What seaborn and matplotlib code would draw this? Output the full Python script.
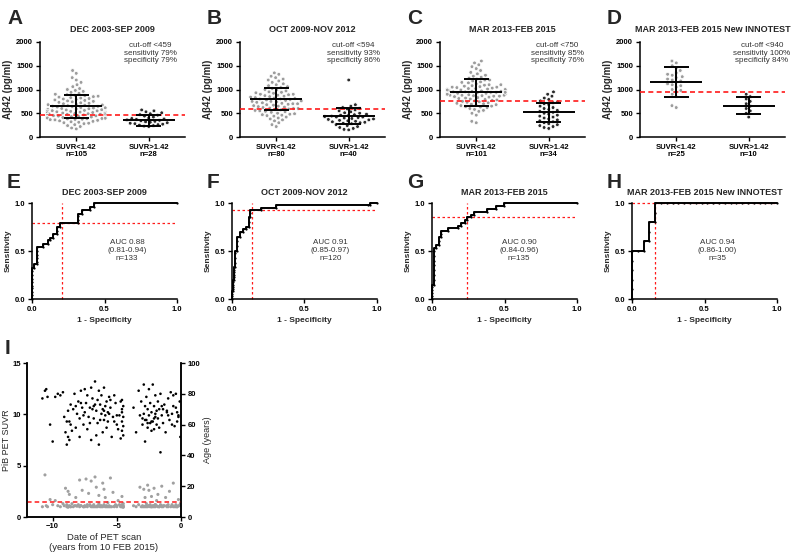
import numpy as np
import pandas as pd
import matplotlib
matplotlib.use('Agg')
import matplotlib.pyplot as plt
import seaborn as sns

# ---- data ----
cats = ['SUVR<1.42', 'SUVR>1.42']
periods = ['DEC 2003-SEP 2009', 'OCT 2009-NOV 2012', 'MAR 2013-FEB 2015',
           'MAR 2013-FEB 2015 New INNOTEST']
n_neg = [105, 80, 101, 25]
n_pos = [28, 40, 34, 10]
cutoffs = [459, 594, 750, 940]
sens = [79, 93, 85, 100]
spec = [79, 86, 76, 84]
means_neg = [645, 795, 940, 1155]
sd_neg = [240, 230, 280, 315]
means_pos = [350, 440, 520, 660]
sd_pos = [115, 175, 205, 175]

a_neg = [1400, 1340, 1250, 1200, 1150, 1100, 1060, 1020, 1000, 980, 960, 940, 920, 900, 890,
         880, 870, 860, 850, 840, 830, 820, 810, 800, 790, 780, 770, 760, 750, 740,
         730, 720, 710, 700, 690, 680, 675, 670, 660, 650, 645, 640, 630, 620, 615,
         610, 600, 595, 590, 580, 575, 570, 560, 555, 550, 545, 540, 530, 525, 520,
         515, 510, 505, 500, 495, 490, 485, 480, 475, 470, 465, 460, 455, 450, 445,
         440, 435, 430, 425, 420, 415, 410, 405, 400, 395, 390, 385, 380, 375, 370,
         365, 360, 350, 340, 330, 320, 310, 300, 290, 280, 260, 240, 220, 190, 170]
a_pos = [570, 550, 530, 510, 490, 470, 460, 440, 420, 400, 390, 380, 370, 360, 350,
         340, 330, 320, 310, 300, 290, 280, 270, 260, 250, 240, 230, 220]
b_neg = [1350, 1320, 1280, 1250, 1220, 1200, 1180, 1150, 1120, 1100, 1080, 1060, 1040, 1020, 1000,
         990, 970, 950, 940, 930, 920, 900, 890, 880, 870, 860, 850, 840, 830, 820,
         810, 800, 790, 780, 770, 760, 750, 740, 730, 720, 710, 700, 690, 680, 670,
         660, 650, 640, 630, 620, 610, 600, 590, 580, 570, 560, 550, 540, 530, 520,
         500, 490, 480, 470, 460, 450, 440, 420, 400, 380, 360, 340, 300, 260, 220,
         900, 800, 700, 600, 750]
b_pos = [1200, 680, 650, 620, 600, 590, 570, 550, 530, 510, 500, 480, 470, 460, 450,
         440, 430, 420, 410, 400, 390, 380, 370, 360, 350, 340, 330, 320, 310, 300,
         290, 280, 260, 240, 220, 200, 180, 160, 150, 420]
c_neg = [1600, 1560, 1520, 1480, 1440, 1400, 1360, 1330, 1300, 1280, 1260, 1240, 1220, 1200, 1180,
         1160, 1140, 1120, 1100, 1090, 1080, 1070, 1060, 1050, 1040, 1030, 1020, 1010, 1000, 990,
         980, 970, 960, 950, 940, 930, 920, 910, 900, 890, 880, 870, 860, 850, 840,
         830, 820, 810, 800, 790, 780, 770, 760, 750, 740, 730, 720, 710, 700, 690,
         680, 670, 660, 650, 640, 630, 620, 600, 580, 560, 540, 500, 460, 330, 300,
         1000, 980, 960, 940, 920, 900, 880, 860, 1050, 1100, 1150, 1200, 950, 920, 880,
         1000, 1020, 940, 900, 870, 990]
c_pos = [950, 900, 860, 820, 790, 760, 740, 720, 700, 680, 650, 620, 600, 580, 560, 540, 520,
         500, 480, 460, 440, 420, 400, 380, 360, 340, 320, 300, 280, 260, 240, 220, 200, 180]
d_neg = [1600, 1560, 1500, 1450, 1400, 1350, 1320, 1300, 1270, 1250, 1220, 1200, 1180,
         1150, 1120, 1100, 1080, 1050, 1000, 980, 950, 900, 850, 660, 620]
d_pos = [900, 850, 800, 750, 700, 650, 600, 550, 500, 420]

# ROC curves (1 - specificity, sensitivity)
e_fpr = [0, 0, 0, 0, 0, 0, 0, 0, 0, 0, 0.014, 0.014, 0.034, 0.034, 0.034, 0.034, 0.034, 0.034,
         0.076, 0.076, 0.11, 0.11, 0.126, 0.126, 0.145, 0.145, 0.172, 0.172, 0.172, 0.19, 0.19,
         0.317, 0.317, 0.317, 0.317, 0.347, 0.347, 0.398, 0.398, 0.428, 0.428, 1.0]
e_tpr = [0, 0.04, 0.07, 0.11, 0.14, 0.18, 0.21, 0.25, 0.29, 0.32, 0.32, 0.36, 0.36, 0.39, 0.43,
         0.46, 0.50, 0.54, 0.54, 0.57, 0.57, 0.61, 0.61, 0.64, 0.64, 0.68, 0.68, 0.71, 0.75, 0.75,
         0.79, 0.79, 0.82, 0.86, 0.89, 0.89, 0.93, 0.93, 0.96, 0.96, 1.0, 1.0]
f_fpr = [0, 0, 0, 0, 0.007, 0.007, 0.007, 0.007, 0.007, 0.007, 0.016, 0.016, 0.016, 0.016, 0.016,
         0.016, 0.023, 0.023, 0.023, 0.023, 0.023, 0.034, 0.034, 0.034, 0.034, 0.057, 0.057,
         0.076, 0.076, 0.099, 0.099, 0.115, 0.115, 0.115, 0.126, 0.126, 0.126, 0.202, 0.202,
         0.306, 0.306, 0.938, 0.954, 0.954, 1.0]
f_tpr = [0, 0.03, 0.05, 0.08, 0.08, 0.10, 0.13, 0.15, 0.18, 0.20, 0.20, 0.23, 0.25, 0.28, 0.30,
         0.33, 0.33, 0.38, 0.43, 0.48, 0.50, 0.50, 0.55, 0.60, 0.65, 0.65, 0.70, 0.70, 0.73,
         0.73, 0.75, 0.75, 0.80, 0.85, 0.85, 0.90, 0.93, 0.93, 0.95, 0.95, 0.975, 0.975, 0.975,
         1.0, 1.0]
g_fpr = [0, 0, 0, 0, 0, 0, 0.016, 0.016, 0.016, 0.016, 0.016, 0.016, 0.016, 0.016, 0.016,
         0.03, 0.03, 0.046, 0.046, 0.046, 0.062, 0.062, 0.062, 0.11, 0.11, 0.18, 0.18, 0.198,
         0.198, 0.225, 0.225, 0.244, 0.244, 0.271, 0.271, 0.287, 0.287, 0.379, 0.379, 0.444,
         0.444, 0.497, 0.497, 1.0]
g_tpr = [0, 0.03, 0.06, 0.09, 0.12, 0.15, 0.15, 0.20, 0.25, 0.30, 0.35, 0.40, 0.45, 0.50, 0.53,
         0.53, 0.56, 0.56, 0.60, 0.65, 0.65, 0.68, 0.71, 0.71, 0.74, 0.74, 0.76, 0.76, 0.79,
         0.79, 0.82, 0.82, 0.85, 0.85, 0.88, 0.88, 0.91, 0.91, 0.94, 0.94, 0.97, 0.97, 1.0, 1.0]
h_fpr = [0, 0, 0, 0, 0, 0, 0.04, 0.08, 0.08, 0.12, 0.12, 0.12, 0.16, 0.16, 0.16, 0.20, 0.24,
         0.28, 0.32, 0.36, 0.40, 0.44, 0.48, 0.52, 0.56, 0.60, 0.64, 0.68, 0.72, 0.76, 0.80,
         0.84, 0.88, 0.92, 0.96, 1.0]
h_tpr = [0, 0.1, 0.2, 0.3, 0.4, 0.5, 0.5, 0.5, 0.6, 0.6, 0.7, 0.8, 0.8, 0.9, 1.0, 1.0, 1.0,
         1.0, 1.0, 1.0, 1.0, 1.0, 1.0, 1.0, 1.0, 1.0, 1.0, 1.0, 1.0, 1.0, 1.0, 1.0, 1.0, 1.0,
         1.0, 1.0]
auc = ['0.88', '0.91', '0.90', '0.94']
auc_ci = ['0.81-0.94', '0.85-0.97', '0.84-0.96', '0.86-1.00']
n_total = [133, 120, 135, 35]

# panel I: scan date (years from 10 FEB 2015), age, PiB SUVR
scan_date = [-10.8, -10.6, -10.5, -10.4, -10.2, -10.0, -9.8, -9.6, -9.4, -9.2,
             -9.1, -9.0, -8.9, -8.9, -8.8, -8.8, -8.7, -8.7, -8.6, -8.5,
             -8.4, -8.3, -8.2, -8.1, -8.0, -7.9, -7.9, -7.8, -7.7, -7.6,
             -7.5, -7.5, -7.4, -7.3, -7.3, -7.2, -7.1, -7.0, -7.0, -6.9,
             -6.8, -6.8, -6.7, -6.6, -6.6, -6.5, -6.5, -6.4, -6.4, -6.3,
             -6.2, -6.2, -6.1, -6.1, -6.0, -6.0, -5.9, -5.9, -5.8, -5.8,
             -5.7, -5.7, -5.6, -5.5, -5.4, -5.3, -5.2, -5.1, -5.0, -4.9,
             -4.7, -4.7, -4.6, -4.6, -4.6, -4.6, -4.5, -4.5, -4.5, -4.5,
             -3.7, -3.5, -3.3, -3.2, -3.1, -3.0, -2.9, -2.9, -2.8, -2.8,
             -2.7, -2.7, -2.6, -2.6, -2.5, -2.5, -2.4, -2.4, -2.3, -2.3,
             -2.2, -2.2, -2.1, -2.1, -2.0, -2.0, -1.9, -1.9, -1.8, -1.8,
             -1.7, -1.6, -1.6, -1.5, -1.4, -1.3, -1.2, -1.1, -1.0, -0.9,
             -0.8, -0.7, -0.6, -0.5, -0.4, -0.3, -0.2, -0.1, -0.05, -0.6,
             -8.6, -8.2, -7.6, -7.1, -6.9, -6.3, -5.6, -5.2, -4.8, -4.6,
             -3.0, -2.6, -2.3, -2.0, -1.7, -1.4, -1.0, -0.7, -0.4, -0.2,
             -7.8, -6.7, -6.0, -5.5, -5.0, -2.8, -2.1, -1.5, -1.1, -0.3]
age = [77, 82, 83, 78, 60, 49, 78, 80, 79, 81,
       65, 55, 62, 47, 69, 52, 62, 50, 73, 56,
       70, 80, 58, 67, 75, 52, 64, 82, 71, 60,
       68, 83, 74, 57, 79, 65, 71, 50, 84, 77,
       64, 72, 88, 53, 69, 76, 61, 82, 47, 73,
       67, 79, 55, 70, 63, 84, 72, 66, 58, 75,
       68, 62, 78, 71, 52, 65, 79, 74, 60, 57,
       75, 51, 68, 62, 56, 70, 72, 53, 65, 59,
       71, 55, 82, 66, 75, 60, 86, 67, 49, 72,
       78, 63, 58, 70, 83, 66, 61, 74, 56, 68,
       86, 62, 72, 57, 65, 79, 60, 69, 75, 64,
       70, 42, 80, 66, 61, 73, 55, 68, 77, 63,
       81, 67, 72, 59, 80, 68, 65, 75, 52, 79,
       60, 72, 66, 61, 70, 63, 67, 62, 66, 76,
       64, 61, 62, 67, 58, 70, 66, 60, 71, 66,
       74, 73, 69, 76, 66, 63, 64, 72, 69, 62]
suvr = [1.0, 4.1, 1.1, 1.0, 1.7, 1.2, 1.6, 1.1, 1.0, 1.3,
        1.1, 2.8, 1.0, 1.2, 2.5, 0.95, 1.1, 2.2, 1.0, 1.3,
        1.0, 1.1, 1.9, 1.05, 1.2, 3.6, 1.0, 1.1, 2.6, 1.0,
        1.1, 1.0, 3.7, 1.2, 1.0, 2.3, 1.1, 1.0, 3.5, 1.05,
        1.0, 1.2, 3.9, 1.0, 2.9, 1.1, 1.0, 1.3, 2.1, 1.0,
        1.1, 1.0, 3.3, 1.0, 1.2, 2.7, 1.0, 1.9, 1.1, 1.0,
        1.0, 1.4, 1.1, 3.8, 1.0, 2.4, 1.0, 1.2, 1.0, 1.6,
        1.05, 1.0, 1.1, 2.0, 1.0, 1.2, 1.0, 1.1, 0.95, 1.3,
        1.1, 1.0, 1.2, 2.9, 1.0, 1.1, 2.7, 1.0, 1.9, 1.05,
        1.0, 1.3, 3.1, 1.0, 1.1, 2.6, 1.0, 1.2, 1.0, 2.0,
        1.1, 1.0, 2.8, 1.0, 1.2, 1.0, 1.6, 1.1, 1.0, 2.2,
        1.0, 1.1, 1.2, 3.0, 1.0, 1.1, 1.9, 1.0, 1.2, 2.5,
        1.0, 1.1, 3.3, 1.0, 1.2, 1.0, 1.7, 1.1, 1.3, 1.0,
        1.0, 1.1, 1.0, 1.2, 1.0, 1.1, 1.0, 1.05, 1.2, 1.0,
        1.0, 1.1, 1.0, 1.2, 1.0, 1.1, 1.0, 1.2, 1.0, 1.1,
        1.1, 1.0, 1.1, 1.0, 1.1, 1.0, 1.1, 1.0, 1.1, 1.0]
suvr_cut = 1.42

# ---- style ----
sns.set_style('ticks')
plt.rcParams['font.family'] = ['Liberation Sans', 'DejaVu Sans']
plt.rcParams['font.weight'] = 'bold'
plt.rcParams['axes.labelweight'] = 'bold'
plt.rcParams['axes.titleweight'] = 'bold'
plt.rcParams['axes.linewidth'] = 1.1
plt.rcParams['xtick.major.width'] = 1.0
plt.rcParams['ytick.major.width'] = 1.0
plt.rcParams['xtick.major.size'] = 3
plt.rcParams['ytick.major.size'] = 3
plt.rcParams['xtick.color'] = 'black'
plt.rcParams['ytick.color'] = 'black'
plt.rcParams['axes.edgecolor'] = 'black'

fig = plt.figure(figsize=(8, 5.6), dpi=100)


def add_ax(x0, y0, x1, y1):
    return fig.add_axes([x0 / 800, 1 - y1 / 560, (x1 - x0) / 800, (y1 - y0) / 560])


def letter(x, y, s):
    fig.text(x / 800, 1 - y / 560, s, fontsize=15, fontweight='bold', ha='left', va='center')


red_dash = (0, (3, 2))

# ---- row 1: scatter of Abeta42 ----
swarm_data = [(a_neg, a_pos), (b_neg, b_pos), (c_neg, c_pos), (d_neg, d_pos)]
txt_x = [0.76, 0.78, 0.81, 0.84]
for k in range(4):
    x0 = 40 + 200 * k
    ax = add_ax(x0, 42, x0 + 145, 137)
    neg, pos = swarm_data[k]
    df = pd.DataFrame({'grp': [cats[0]] * len(neg) + [cats[1]] * len(pos),
                       'ab42': neg + pos})
    # white rim keeps the dots small but spaces the swarm out like the original
    sns.swarmplot(data=df, x='grp', y='ab42', hue='grp', order=cats,
                  palette=['#9c9c9c', '#2a2a2a'], size=2.7, edgecolor='white',
                  linewidth=0.55, legend=False, warn_thresh=1, ax=ax)
    ax.axhline(cutoffs[k], color='#ff1a1a', ls=red_dash, lw=1.2, zorder=4)
    for i, (m, s) in enumerate([(means_neg[k], sd_neg[k]), (means_pos[k], sd_pos[k])]):
        ax.hlines(m, i - 0.36, i + 0.36, color='black', lw=1.4, zorder=5)
        ax.hlines([m - s, m + s], i - 0.17, i + 0.17, color='black', lw=1.4, zorder=5)
        ax.vlines(i, m - s, m + s, color='black', lw=1.4, zorder=5)
    ax.set_xlim(-0.5, 1.5)
    ax.set_ylim(0, 2000)
    ax.set_yticks([0, 500, 1000, 1500, 2000])
    ax.set_xticks([0, 1])
    ax.set_xticklabels([f'{cats[0]}\nn={n_neg[k]}', f'{cats[1]}\nn={n_pos[k]}'],
                       linespacing=1.0)
    ax.tick_params(labelsize=5.5, pad=2)
    ax.set_xlabel('')
    ax.set_ylabel('Aβ42 (pg/ml)', fontsize=7, labelpad=2)
    ax.set_title(periods[k], fontsize=6.5, pad=7)
    ax.text(txt_x[k], 1.0, f'cut-off <{cutoffs[k]}\nsensitivity {sens[k]}%\nspecificity {spec[k]}%',
            transform=ax.transAxes, ha='center', va='top', fontsize=5.8,
            fontweight='normal', color='#333333', linespacing=1.15)
    sns.despine(ax=ax)
    letter(x0 - 33, 18, 'ABCD'[k])

# ---- row 2: ROC curves ----
roc_data = [(e_fpr, e_tpr), (f_fpr, f_tpr), (g_fpr, g_tpr), (h_fpr, h_tpr)]
auc_x = [0.655, 0.68, 0.6, 0.59]
for k in range(4):
    x0 = 32 + 200 * k
    ax = add_ax(x0, 203, x0 + 145, 299)
    fpr, tpr = roc_data[k]
    ax.axhline(sens[k] / 100, color='#ff1a1a', ls=(0, (2, 2)), lw=0.9, zorder=1)
    ax.axvline(1 - spec[k] / 100, color='#ff1a1a', ls=(0, (2, 2)), lw=0.9, zorder=1)
    sns.lineplot(x=fpr, y=tpr, sort=False, estimator=None, color='black', lw=1.4,
                 marker='o', markersize=1.6, markeredgewidth=0, ax=ax)
    for ln in ax.lines:
        ln.set_clip_on(False)
    ax.set_xlim(0, 1)
    ax.set_ylim(0, 1)
    ax.set_xticks([0, 0.5, 1.0])
    ax.set_yticks([0, 0.5, 1.0])
    ax.set_xticklabels(['0.0', '0.5', '1.0'])
    ax.set_yticklabels(['0.0', '0.5', '1.0'])
    ax.tick_params(labelsize=5.5, pad=2)
    ax.set_xlabel('1 - Specificity', fontsize=6, labelpad=3)
    ax.set_ylabel('Sensitivity', fontsize=6, labelpad=2)
    ax.set_title(periods[k], fontsize=6.5, pad=6)
    ax.text(auc_x[k], 0.5, f'AUC {auc[k]}\n({auc_ci[k]})\nn={n_total[k]}',
            transform=ax.transAxes, ha='center', va='center', fontsize=5.8,
            fontweight='normal', color='#333333', linespacing=1.2)
    sns.despine(ax=ax)
    letter(x0 - 25, 183, 'EFGH'[k])

# ---- row 3: panel I ----
ax = add_ax(27, 363, 181, 517)
ax2 = ax.twinx()
sns.scatterplot(x=scan_date, y=suvr, color='#a0a0a0', s=5, edgecolor='none', ax=ax)
ax.axhline(suvr_cut, color='#ff1a1a', ls=red_dash, lw=1.1, zorder=4)
sns.scatterplot(x=scan_date, y=age, color='black', s=3.5, edgecolor='none', ax=ax2)
ax.set_xlim(-12, 0)
ax.set_ylim(0, 15)
ax2.set_ylim(0, 100)
ax.set_xticks([-10, -5, 0])
ax.set_yticks([0, 5, 10, 15])
ax2.set_yticks([0, 20, 40, 60, 80, 100])
ax.tick_params(labelsize=5.5, pad=1.5)
ax2.tick_params(labelsize=5.5, pad=1.5)
ax.set_ylabel('PiB PET SUVR', fontsize=6.5, fontweight='normal', labelpad=1)
ax2.set_ylabel('Age (years)', fontsize=6.5, fontweight='normal', labelpad=2)
ax.set_xlabel('Date of PET scan\n(years from 10 FEB 2015)', fontsize=6.8,
              fontweight='normal', labelpad=2, linespacing=1.1)
for a in (ax, ax2):
    a.spines['top'].set_visible(False)
letter(5, 348, 'I')

fig.savefig('out.png', dpi=100)
